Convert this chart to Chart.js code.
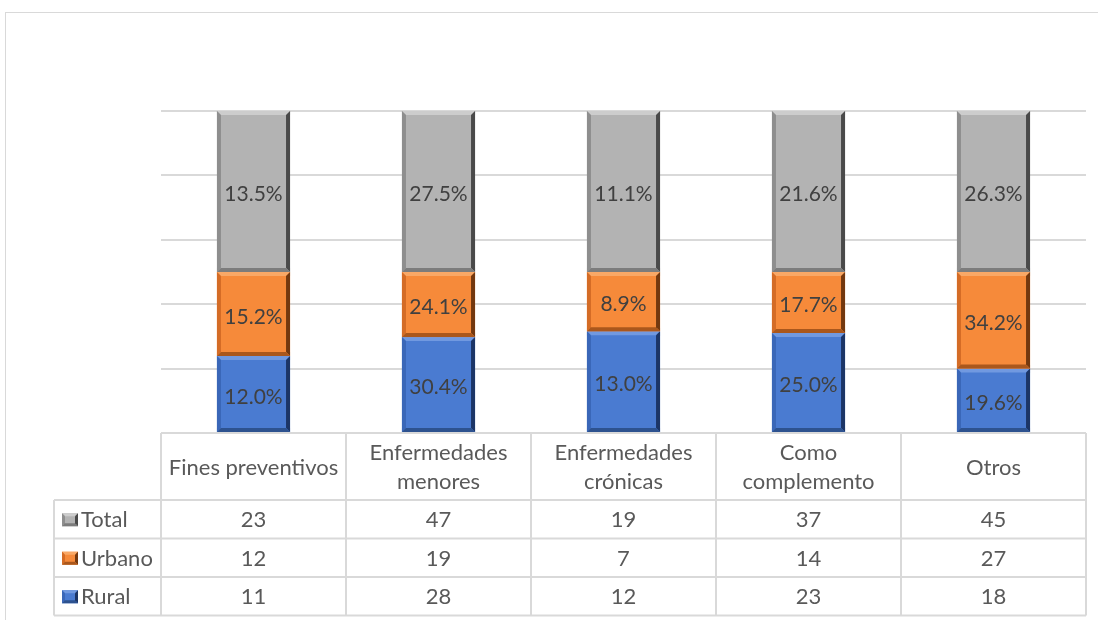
<!DOCTYPE html>
<html>
<head>
<meta charset="utf-8">
<script src="https://cdn.jsdelivr.net/npm/chart.js@4.4.1/dist/chart.umd.min.js"></script>
<style>
  html, body { margin: 0; padding: 0; background: #ffffff; }
  #wrap { width: 1098px; height: 620px; position: relative; }
  canvas { display: block; }
</style>
</head>
<body>
<div id="wrap"><canvas id="chart" width="1098" height="620"></canvas></div>
<script>
// Categories (header lines of the data table)
const categories = [
  ['Fines preventivos'],
  ['Enfermedades', 'menores'],
  ['Enfermedades', 'crónicas'],
  ['Como', 'complemento'],
  ['Otros']
];

// Counts per series
const rural  = [11, 28, 12, 23, 18];
const urbano = [12, 19, 7, 14, 27];
const total  = [23, 47, 19, 37, 45];

const seriesNames = ['Rural', 'Urbano', 'Total'];
const yTicks = [0, 20, 40, 60, 80, 100];

const FONT = 'Lato, "Open Sans", sans-serif';

// Face colours and bevel shades per series
const palette = {
  Rural:  { face: '#4a7bd1', top: '#7199e0', left: '#3a67b8', right: '#1c3566', bottom: '#2d528f' },
  Urbano: { face: '#f68a3a', top: '#f9a866', left: '#d46c26', right: '#73380f', bottom: '#aa571c' },
  Total:  { face: '#b3b3b3', top: '#cdcdcd', left: '#8e8e8e', right: '#4a4a4a', bottom: '#7c7c7c' }
};

const seriesValues = [rural, urbano, total];

// 100% stacked heights: share of each series inside its category
const catSums = categories.map((_, i) => rural[i] + urbano[i] + total[i]);
const stackShares = seriesValues.map(arr => arr.map((v, i) => v / catSums[i] * 100));

// Label text: share of each value inside its own series
const seriesSums = seriesValues.map(arr => arr.reduce((a, b) => a + b, 0));
const labelText = seriesValues.map((arr, s) => arr.map(v => (v / seriesSums[s] * 100).toFixed(1) + '%'));

function poly(ctx, pts, color) {
  ctx.beginPath();
  ctx.moveTo(pts[0][0], pts[0][1]);
  for (let k = 1; k < pts.length; k++) ctx.lineTo(pts[k][0], pts[k][1]);
  ctx.closePath();
  ctx.fillStyle = color;
  ctx.fill();
}

function bevelBox(ctx, x0, y0, x1, y1, c, b) {
  ctx.fillStyle = c.face;
  ctx.fillRect(x0, y0, x1 - x0, y1 - y0);
  poly(ctx, [[x0, y0], [x1, y0], [x1 - b, y0 + b], [x0 + b, y0 + b]], c.top);
  poly(ctx, [[x0, y0], [x0 + b, y0 + b], [x0 + b, y1 - b], [x0, y1]], c.left);
  poly(ctx, [[x1, y0], [x1, y1], [x1 - b, y1 - b], [x1 - b, y0 + b]], c.right);
  poly(ctx, [[x0, y1], [x0 + b, y1 - b], [x1 - b, y1 - b], [x1, y1]], c.bottom);
}

// Outer frame of the chart object
const framePlugin = {
  id: 'frame',
  beforeDraw(chart) {
    const ctx = chart.ctx;
    ctx.save();
    ctx.strokeStyle = '#d9d9d9';
    ctx.lineWidth = 1;
    ctx.strokeRect(5.5, 12.5, 1200, 700);
    ctx.restore();
  }
};

// Bevelled segments with their percentage labels
const bevelPlugin = {
  id: 'bevelBars',
  afterDatasetsDraw(chart) {
    const ctx = chart.ctx;
    ctx.save();
    chart.data.datasets.forEach((ds, s) => {
      const meta = chart.getDatasetMeta(s);
      const c = palette[ds.label];
      meta.data.forEach((el) => {
        const p = el.getProps(['x', 'y', 'base', 'width'], true);
        const x0 = p.x - p.width / 2, x1 = p.x + p.width / 2;
        const y0 = Math.min(p.y, p.base), y1 = Math.max(p.y, p.base);
        bevelBox(ctx, x0, y0, x1, y1, c, 4);
      });
    });
    ctx.font = '21px ' + FONT;
    ctx.fillStyle = '#404040';
    ctx.textAlign = 'center';
    ctx.textBaseline = 'middle';
    chart.data.datasets.forEach((ds, s) => {
      const meta = chart.getDatasetMeta(s);
      meta.data.forEach((el, i) => {
        const p = el.getProps(['x', 'y', 'base'], true);
        ctx.fillText(labelText[s][i], p.x, (p.y + p.base) / 2 + 3);
      });
    });
    ctx.restore();
  }
};

// Data table under the plot
const tablePlugin = {
  id: 'dataTable',
  afterDraw(chart) {
    const ctx = chart.ctx;
    const xs = chart.scales.x;
    const n = categories.length;
    const colW = xs.getPixelForValue(1) - xs.getPixelForValue(0);
    const left = xs.getPixelForValue(0) - colW / 2;
    const right = left + n * colW;
    const top = chart.chartArea.bottom;
    const headH = 67;
    const rowH = 38.5;
    const legendLeft = 54;
    const rowOrder = [2, 1, 0]; // Total, Urbano, Rural
    const rowsTop = top + headH;
    const bottom = rowsTop + rowOrder.length * rowH;

    ctx.save();
    ctx.strokeStyle = '#d9d9d9';
    ctx.lineWidth = 2;
    ctx.beginPath();
    ctx.moveTo(left, top); ctx.lineTo(right, top);
    for (let r = 0; r <= rowOrder.length; r++) {
      const y = rowsTop + r * rowH;
      ctx.moveTo(legendLeft, y); ctx.lineTo(right, y);
    }
    for (let k = 0; k <= n; k++) {
      const x = left + k * colW;
      ctx.moveTo(x, top); ctx.lineTo(x, bottom);
    }
    ctx.moveTo(legendLeft, rowsTop); ctx.lineTo(legendLeft, bottom);
    ctx.stroke();

    ctx.fillStyle = '#595959';
    ctx.font = '22px ' + FONT;
    ctx.textAlign = 'center';
    ctx.textBaseline = 'middle';
    categories.forEach((lines, i) => {
      const cx = xs.getPixelForValue(i);
      const lh = 29;
      const start = top + headH / 2 - (lines.length - 1) * lh / 2;
      lines.forEach((t, j) => ctx.fillText(t, cx, start + j * lh + 1));
    });

    rowOrder.forEach((s, r) => {
      const cy = rowsTop + r * rowH + rowH / 2 + 1;
      categories.forEach((_, i) => {
        ctx.fillStyle = '#595959';
        ctx.textAlign = 'center';
        ctx.fillText(String(seriesValues[s][i]), xs.getPixelForValue(i), cy);
      });
      const name = seriesNames[s];
      bevelBox(ctx, 62, cy - 7, 78, cy + 6, palette[name], 3);
      ctx.fillStyle = '#595959';
      ctx.textAlign = 'left';
      ctx.fillText(name, 81, cy);
    });
    ctx.restore();
  }
};

new Chart(document.getElementById('chart'), {
  type: 'bar',
  data: {
    labels: categories.map(c => c.join(' ')),
    datasets: seriesNames.map((name, s) => ({
      label: name,
      data: stackShares[s],
      backgroundColor: palette[name].face,
      borderWidth: 0,
      barPercentage: 0.395,
      categoryPercentage: 1
    }))
  },
  options: {
    responsive: false,
    animation: false,
    layout: { padding: { left: 161, right: 12, top: 111, bottom: 187 } },
    plugins: {
      legend: { display: false },
      tooltip: { enabled: false }
    },
    scales: {
      x: {
        stacked: true,
        display: false
      },
      y: {
        stacked: true,
        min: 0,
        max: 100,
        afterBuildTicks(axis) { axis.ticks = yTicks.map(v => ({ value: v })); },
        ticks: { display: false },
        border: { display: false },
        grid: { color: '#d9d9d9', lineWidth: 2, drawTicks: false }
      }
    }
  },
  plugins: [framePlugin, bevelPlugin, tablePlugin]
});
</script>
</body>
</html>
